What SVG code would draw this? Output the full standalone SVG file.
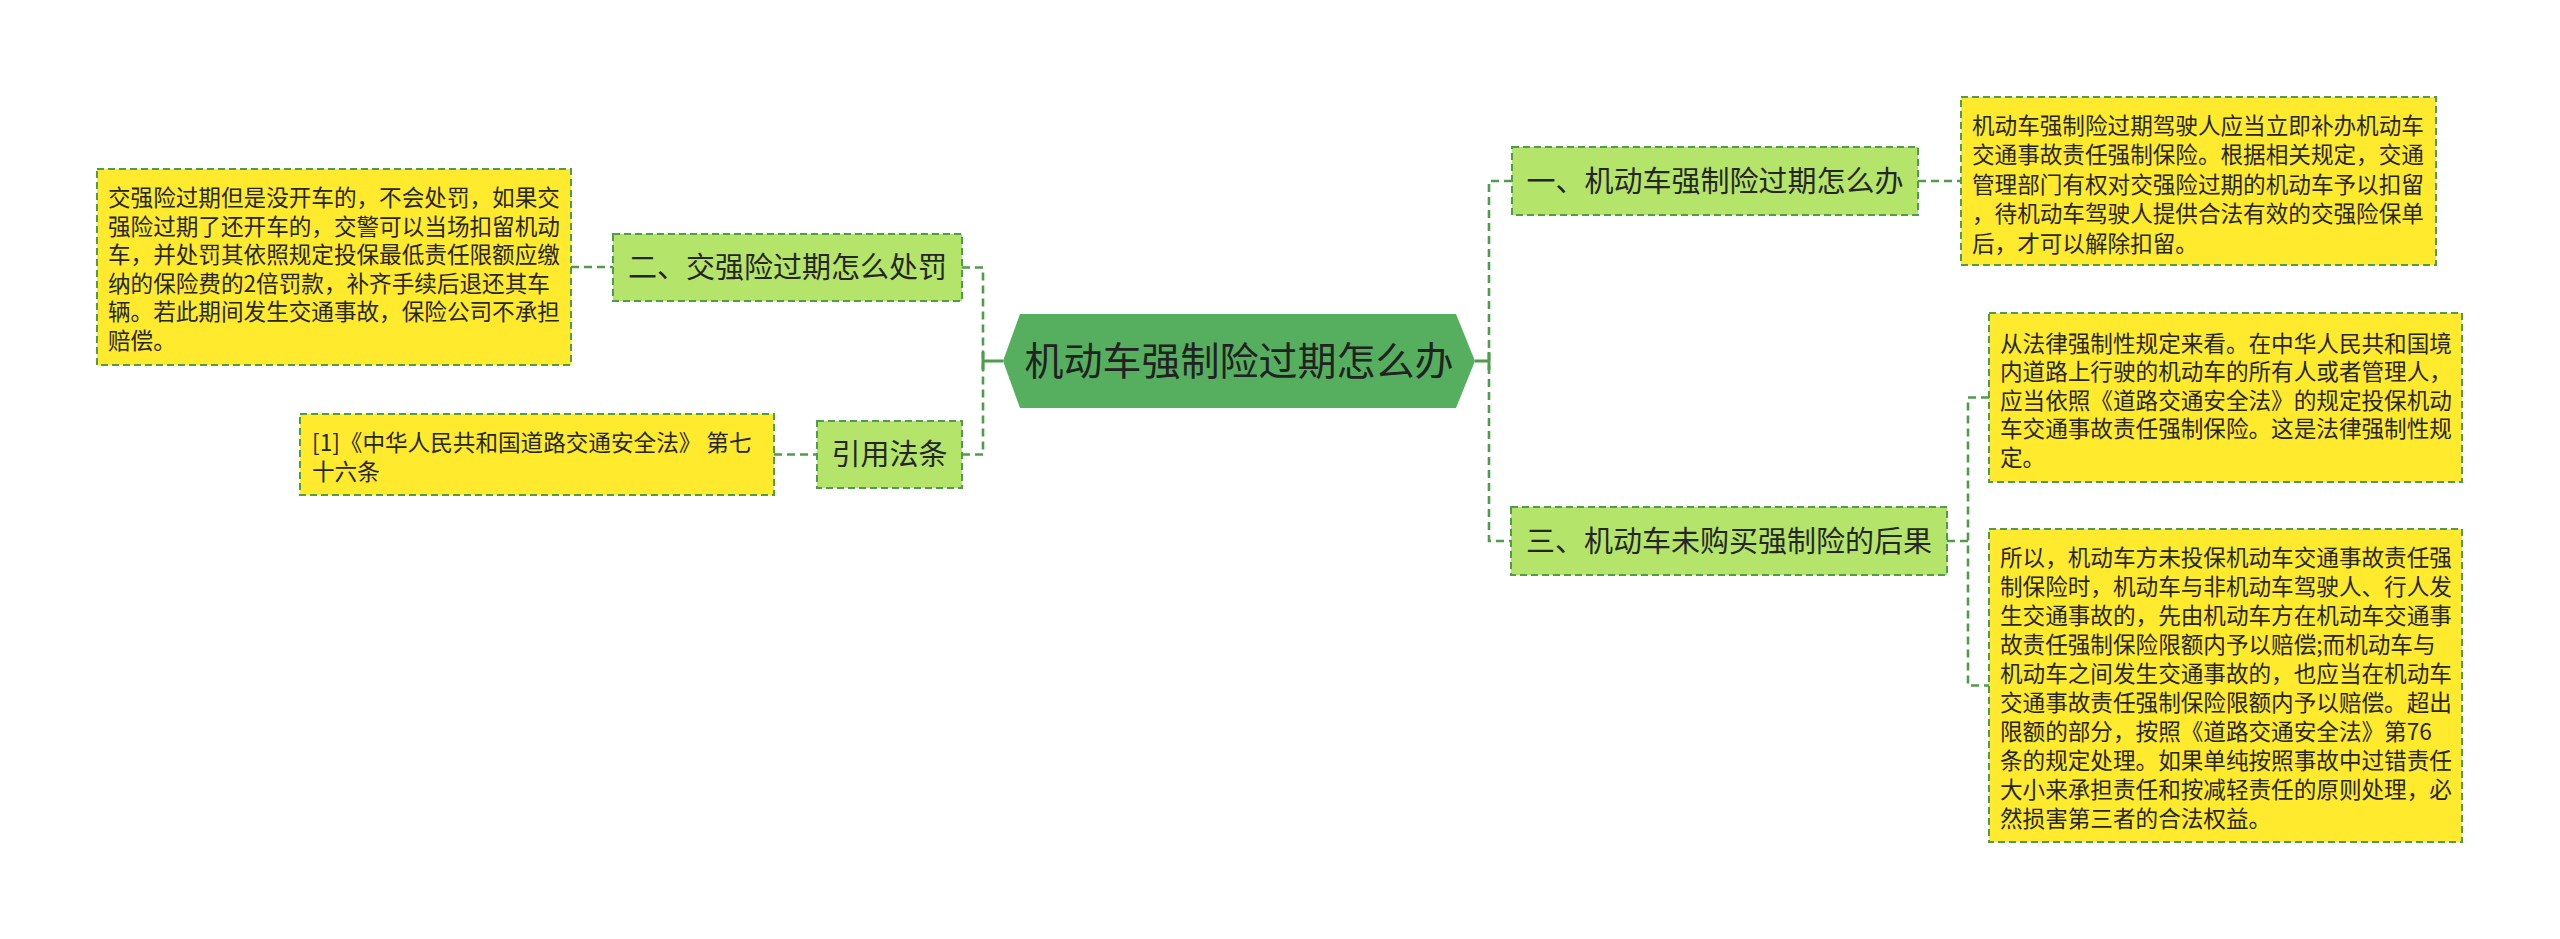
<svg xmlns="http://www.w3.org/2000/svg" width="2560" height="939" viewBox="0 0 2560 939">
<style>
.bg{fill:#ffffff}
.leaf{fill:#ffea2e;stroke:#4f9d4b;stroke-width:2;stroke-dasharray:7 4}
.topic{fill:#b4e46a;stroke:#4f9d4b;stroke-width:2;stroke-dasharray:7 4}
.root{fill:#55af5f}
.conn{fill:none;stroke:#4f9d4b;stroke-width:2.6;stroke-dasharray:8 5}
.solid{fill:none;stroke:#4f9d4b;stroke-width:3}
.t{font-family:"Noto Sans CJK SC","Noto Sans",sans-serif;fill:#262626}
.small{font-size:22.6px}
.mid{font-size:29px;text-anchor:middle}
.big{font-size:39px;text-anchor:middle;fill:#222}
</style>
<rect class="bg" x="0" y="0" width="2560" height="939"/>
<g id="connectors">
<path class="conn" d="M571,267 H613"/>
<path class="conn" d="M962,267.5 H983 V454.5 H962"/>
<path class="conn" d="M774,454.5 H817"/>
<path class="solid" d="M983,361 H1003 M983,352 V370"/>
<path class="solid" d="M1475,361 H1489 M1489,352 V370"/>
<path class="conn" d="M1512,181 H1489 V541 H1511"/>
<path class="conn" d="M1918,181 H1961"/>
<path class="conn" d="M1947,541 H1968"/>
<path class="conn" d="M1989,397.5 H1968 V685.5 H1989"/>
</g>
<g id="root">
<polygon class="root" points="1003,361 1020,314 1456,314 1475,361 1456,408 1020,408"/>
<text class="t big" x="1239" y="375">机动车强制险过期怎么办</text>
</g>
<g id="node-2">
<rect class="topic" x="613" y="234" width="349" height="67"/>
<text class="t mid" x="787.5" y="278">二、交强险过期怎么处罚</text>
</g>
<g id="node-2-detail">
<rect class="leaf" x="97" y="169" width="474" height="196"/>
<text class="t small" x="108" y="206"><tspan x="108">交强险过期但是没开车的，不会处罚，如果交</tspan><tspan x="108" dy="28.5">强险过期了还开车的，交警可以当场扣留机动</tspan><tspan x="108" dy="28.5">车，并处罚其依照规定投保最低责任限额应缴</tspan><tspan x="108" dy="28.5">纳的保险费的2倍罚款，补齐手续后退还其车</tspan><tspan x="108" dy="28.5">辆。若此期间发生交通事故，保险公司不承担</tspan><tspan x="108" dy="28.5">赔偿。</tspan></text>
</g>
<g id="node-law">
<rect class="topic" x="817" y="421" width="145" height="67"/>
<text class="t mid" x="889.5" y="465">引用法条</text>
</g>
<g id="node-law-detail">
<rect class="leaf" x="300" y="414" width="474" height="81"/>
<text class="t small" x="312" y="451"><tspan x="312">[1]《中华人民共和国道路交通安全法》 第七</tspan><tspan x="312" dy="29">十六条</tspan></text>
</g>
<g id="node-1">
<rect class="topic" x="1512" y="147" width="406" height="68"/>
<text class="t mid" x="1715" y="192">一、机动车强制险过期怎么办</text>
</g>
<g id="node-1-detail">
<rect class="leaf" x="1961" y="97" width="475" height="168"/>
<text class="t small" x="1972" y="133.5"><tspan x="1972">机动车强制险过期驾驶人应当立即补办机动车</tspan><tspan x="1972" dy="29.5">交通事故责任强制保险。根据相关规定，交通</tspan><tspan x="1972" dy="29.5">管理部门有权对交强险过期的机动车予以扣留</tspan><tspan x="1972" dy="29.5">，待机动车驾驶人提供合法有效的交强险保单</tspan><tspan x="1972" dy="29.5">后，才可以解除扣留。</tspan></text>
</g>
<g id="node-3">
<rect class="topic" x="1511" y="507" width="436" height="68"/>
<text class="t mid" x="1729" y="552">三、机动车未购买强制险的后果</text>
</g>
<g id="node-3-detail-a">
<rect class="leaf" x="1989" y="313" width="473" height="169"/>
<text class="t small" x="2000" y="351.5"><tspan x="2000">从法律强制性规定来看。在中华人民共和国境</tspan><tspan x="2000" dy="28.5">内道路上行驶的机动车的所有人或者管理人，</tspan><tspan x="2000" dy="28.5">应当依照《道路交通安全法》的规定投保机动</tspan><tspan x="2000" dy="28.5">车交通事故责任强制保险。这是法律强制性规</tspan><tspan x="2000" dy="28.5">定。</tspan></text>
</g>
<g id="node-3-detail-b">
<rect class="leaf" x="1989" y="529" width="473" height="313"/>
<text class="t small" x="2000" y="565.5"><tspan x="2000">所以，机动车方未投保机动车交通事故责任强</tspan><tspan x="2000" dy="29">制保险时，机动车与非机动车驾驶人、行人发</tspan><tspan x="2000" dy="29">生交通事故的，先由机动车方在机动车交通事</tspan><tspan x="2000" dy="29">故责任强制保险限额内予以赔偿;而机动车与</tspan><tspan x="2000" dy="29">机动车之间发生交通事故的，也应当在机动车</tspan><tspan x="2000" dy="29">交通事故责任强制保险限额内予以赔偿。超出</tspan><tspan x="2000" dy="29">限额的部分，按照《道路交通安全法》第76</tspan><tspan x="2000" dy="29">条的规定处理。如果单纯按照事故中过错责任</tspan><tspan x="2000" dy="29">大小来承担责任和按减轻责任的原则处理，必</tspan><tspan x="2000" dy="29">然损害第三者的合法权益。</tspan></text>
</g>
</svg>
